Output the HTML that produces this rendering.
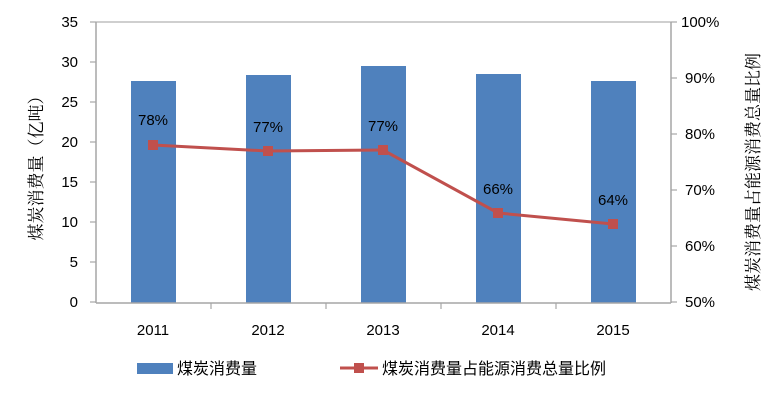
<!DOCTYPE html>
<html><head><meta charset="utf-8"><style>
body{margin:0;background:#fff;}
text{font-family:"Liberation Sans","Noto Sans CJK SC",sans-serif;fill:#000;}
text.serif{font-family:"Liberation Serif","Noto Serif CJK SC",serif;}
</style></head><body>
<svg width="772" height="405" viewBox="0 0 772 405" xmlns="http://www.w3.org/2000/svg">
<rect width="772" height="405" fill="#fff"/>
<line x1="96" y1="22" x2="671" y2="22" stroke="#bfbfbf" stroke-width="1.5"/>
<line x1="96" y1="22" x2="96" y2="303" stroke="#a6a6a6" stroke-width="1.5"/>
<g stroke="#a6a6a6" stroke-width="1.2">
<line x1="90" y1="22" x2="96" y2="22"/><line x1="90" y1="62" x2="96" y2="62"/><line x1="90" y1="102" x2="96" y2="102"/><line x1="90" y1="142" x2="96" y2="142"/><line x1="90" y1="182" x2="96" y2="182"/><line x1="90" y1="222" x2="96" y2="222"/><line x1="90" y1="262" x2="96" y2="262"/><line x1="90" y1="302" x2="96" y2="302"/>
</g>
<line x1="671" y1="22" x2="671" y2="303" stroke="#a6a6a6" stroke-width="1.5"/>
<g stroke="#a6a6a6" stroke-width="1.2">
<line x1="671" y1="22" x2="677" y2="22"/><line x1="671" y1="78" x2="677" y2="78"/><line x1="671" y1="134" x2="677" y2="134"/><line x1="671" y1="190" x2="677" y2="190"/><line x1="671" y1="246" x2="677" y2="246"/><line x1="671" y1="302" x2="677" y2="302"/>
</g>
<g fill="#4f81bd">
<rect x="131" y="81" width="45" height="222"/>
<rect x="246" y="75" width="45" height="228"/>
<rect x="361" y="66" width="45" height="237"/>
<rect x="476" y="74" width="45" height="229"/>
<rect x="591" y="81" width="45" height="222"/>
</g>
<line x1="96" y1="303" x2="671" y2="303" stroke="#a6a6a6" stroke-width="1.5"/>
<g stroke="#a6a6a6" stroke-width="1.2">
<line x1="211" y1="303" x2="211" y2="309"/><line x1="326" y1="303" x2="326" y2="309"/><line x1="441" y1="303" x2="441" y2="309"/><line x1="556" y1="303" x2="556" y2="309"/>
</g>
<polyline points="153,145 268,151 383,150 498,213 613,224" fill="none" stroke="#c0504d" stroke-width="3"/>
<g fill="#c0504d">
<rect x="148" y="140" width="10" height="10"/><rect x="263" y="146" width="10" height="10"/><rect x="378" y="145" width="10" height="10"/><rect x="493" y="208" width="10" height="10"/><rect x="608" y="219" width="10" height="10"/>
</g>
<g font-size="15" text-anchor="middle">
<text x="153" y="125">78%</text><text x="268" y="132">77%</text><text x="383" y="131">77%</text><text x="498" y="194">66%</text><text x="613" y="205">64%</text>
</g>
<g font-size="15" text-anchor="end">
<text x="78" y="27">35</text><text x="78" y="67">30</text><text x="78" y="107">25</text><text x="78" y="147">20</text><text x="78" y="187">15</text><text x="78" y="227">10</text><text x="78" y="267">5</text><text x="78" y="307">0</text>
</g>
<g font-size="15" text-anchor="start">
<text x="681" y="27">100%</text><text x="685" y="83">90%</text><text x="685" y="139">80%</text><text x="685" y="195">70%</text><text x="685" y="251">60%</text><text x="685" y="307">50%</text>
</g>
<g font-size="15" text-anchor="middle">
<text x="153" y="335">2011</text><text x="268" y="335">2012</text><text x="383" y="335">2013</text><text x="498" y="335">2014</text><text x="613" y="335">2015</text>
</g>
<text class="serif" font-size="17" text-anchor="middle" transform="translate(42,164) rotate(-90)">煤炭消费量（亿吨）</text>
<text class="serif" font-size="17" text-anchor="middle" transform="translate(759,172) rotate(-90)">煤炭消费量占能源消费总量比例</text>
<rect x="137" y="363" width="36" height="11" fill="#4f81bd"/>
<text x="177" y="374" font-size="16">煤炭消费量</text>
<line x1="340" y1="368" x2="378" y2="368" stroke="#c0504d" stroke-width="3"/>
<rect x="354" y="363" width="10" height="10" fill="#c0504d"/>
<text x="382" y="374" font-size="16">煤炭消费量占能源消费总量比例</text>
</svg>
</body></html>
